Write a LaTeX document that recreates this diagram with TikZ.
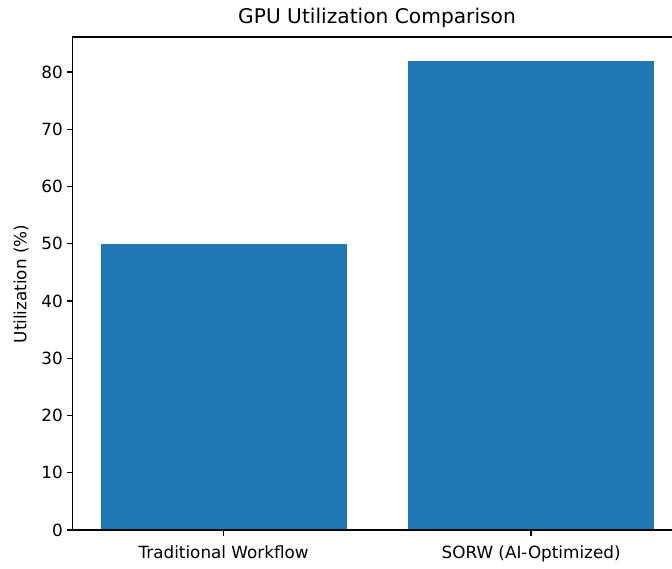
\documentclass[tikz,border=0pt]{standalone}
\usepackage{fontspec}
\setmainfont{DejaVu Sans}
\definecolor{barblue}{HTML}{1F77B4}

\begin{document}
\begin{tikzpicture}[
    x=1pt, y=1pt,
    bar/.style={fill=barblue, draw=none},
    spine/.style={line width=1.3pt, line cap=rect},
    tickmark/.style={line width=1.3pt},
    ticklabel/.style={font=\fontsize{16.8}{20}\selectfont, inner sep=0pt},
    titlelabel/.style={font=\fontsize{20.2}{24}\selectfont, inner sep=0pt}
]
    \useasboundingbox (0,0) rectangle (672,568);

    % 坐标轴角点
    \coordinate (O)  at (72.8, 38);     % 左下
    \coordinate (TL) at (72.8, 531);    % 左上
    \coordinate (BR) at (672, 38);      % 右下 (被裁切)
    \coordinate (TR) at (672, 531);     % 右上 (被裁切)

    % 柱子 (1 单位 = 5.725pt)
    \fill[bar] (100.6, 38) rectangle (346.6, 38+50*5.725);
    \fill[bar] (408.1, 38) rectangle (654.1, 38+82*5.725);

    % 边框
    \draw[spine] (BR) -- (O) -- (TL) -- (TR);

    % y 轴刻度
    \foreach \v in {0,10,...,80} {
        \draw[tickmark] (72.8, 38+\v*5.725) -- ++(-6,0);
        \node[ticklabel, anchor=east] (y\v) at (63, 38+\v*5.725) {\v};
    }

    % x 轴刻度
    \draw[tickmark] (223.6, 38) -- ++(0,-6);
    \draw[tickmark] (531.1, 38) -- ++(0,-6);
    \node[ticklabel, anchor=base] (trad) at (223.6, 10) {Traditional Workflow};
    \node[ticklabel, anchor=base] (sorw) at (531.1, 10) {SORW (AI-Optimized)};

    % 轴标签与标题
    \node[ticklabel, rotate=90] (ylab) at (21, 284) {Utilization (\%)};
    \node[titlelabel] (title) at (377, 550) {GPU Utilization Comparison};

\end{tikzpicture}
\end{document}
